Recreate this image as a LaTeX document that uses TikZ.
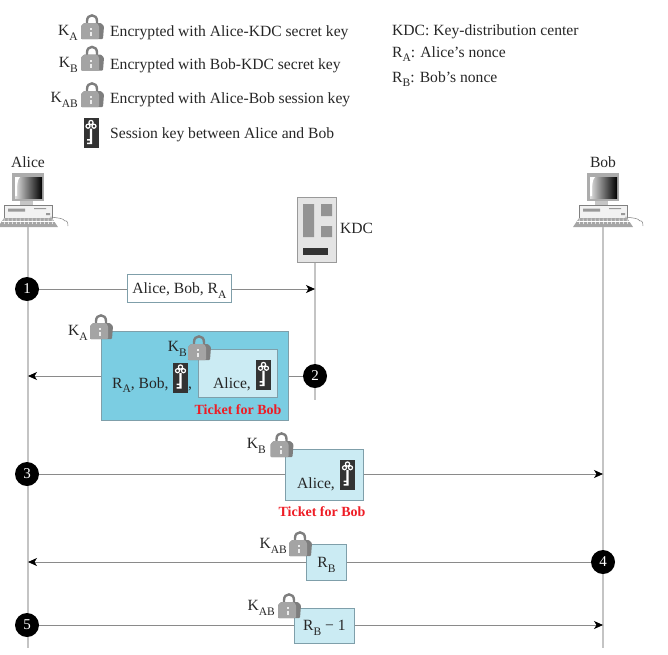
\documentclass[tikz,border=0pt]{standalone}
\usepackage{fontspec}
\setmainfont{Liberation Serif}
\usetikzlibrary{arrows.meta}
\definecolor{lockgray}{HTML}{A4A4A4}
\definecolor{lockdark}{HTML}{7E7E7E}
\definecolor{keydark}{HTML}{333333}
\definecolor{ticketblue}{HTML}{7BCDE2}
\definecolor{ticketpale}{HTML}{CBEBF3}
\definecolor{linegray}{HTML}{8A8A8A}
\definecolor{lifegray}{HTML}{C4C4C4}
\definecolor{boxedge}{HTML}{7F9FAA}
\definecolor{ticketred}{HTML}{EE1C25}
\definecolor{kdcfill}{HTML}{E4E4E4}
\newcommand{\lowidx}[1]{\raisebox{-0.3em}{\fontsize{11.5}{11.5}\selectfont #1}}
\tikzset{
  lockicon/.pic={
    \draw[lockdark,line width=2.4pt] (-5,-3) -- (-5,-6) .. controls (-5,-13.5) and (5,-13.5) .. (5,-6) -- (5,-3);
    \fill[lockdark,rounded corners=1pt] (-11,-1) -- (-8,-4) -- (9,-4) -- (12,-1) -- (11,12) -- (-11,12) -- cycle;
    \fill[lockgray,rounded corners=1pt] (-11,-1) -- (-8,-4) -- (5,-4) -- (7,-1) -- (7,12) -- (-11,12) -- cycle;
    \fill[white!85!gray] (-2,1) rectangle (0,3);
    \fill[white!85!gray] (-2,5) rectangle (0,9);
  },
  keyicon/.pic={
    \fill[keydark] (-7.5,-15) rectangle (7.5,15);
    \draw[white,line width=1.2pt] (0,-10.5) circle (2.1) (-3,-6.8) circle (2) (3,-6.8) circle (2);
    \fill[white] (-1.2,-4.5) rectangle (1.2,11) (-4,6) rectangle (-1,7.5) (-4,9.5) rectangle (-1,11);
  },
  pcicon/.pic={
    \fill[gray!65] (-16.5,-27) rectangle (16,1);
    \shade[left color=gray!25,right color=black] (-13,-23) rectangle (14,-2);
    \fill[white] (-13,-23) -- (-8,-23) .. controls (-11,-20) and (-11,-14) .. (-11,-4) -- (-13,-4) -- cycle;
    \fill[gray!45] (-8,1) rectangle (5,5);
    \draw[gray,fill=gray!10] (-24,5) rectangle (24,18);
    \fill[gray!80] (-20,8.5) rectangle (-3,11.5) (6,8) rectangle (18,9) (18,13) rectangle (22,15);
    \fill[gray!70] (-24,18) -- (24,18) -- (30,27) -- (-30,27) -- cycle;
    \foreach \kx in {-24,-20,...,24} \draw[white,line width=0.5pt] (\kx,18.5) -- (\kx+0.6,24);
    \draw[white,line width=0.5pt] (-26,21) -- (27,21);
    \draw[gray,line width=0.5pt] (22,17) .. controls (30,18) and (35,18) .. (37,21) .. controls (39,20) and (40,23) .. (40,26);
  },
  stepdot/.style={circle,fill=black,text=white,minimum size=24pt,inner sep=0pt,font=\fontsize{15}{15}\selectfont},
  msgbox/.style={draw=boxedge,line width=0.8pt,inner sep=0pt,anchor=north west,text height=12pt,text depth=2pt},
  plaintext/.style={anchor=west,inner sep=0pt},
  ticketlabel/.style={text=ticketred,font=\fontsize{14}{14}\selectfont\bfseries},
  keylabel/.style={anchor=east,inner sep=0pt},
  lifeline/.style={draw=lifegray,line width=1.1pt},
  plainline/.style={draw=linegray,line width=0.8pt},
  msgline/.style={draw=linegray,line width=0.8pt,-{Stealth[length=9pt,width=8pt,inset=2.5pt,black]}}
}
\begin{document}
\begin{tikzpicture}[x=1pt,y=-1pt,font=\fontsize{15.6}{18}\selectfont,text=black!85]
\useasboundingbox (0,0) rectangle (668,654);

% Legend
\node[keylabel] (legA) at (78,33) {K\lowidx{A}};
\pic at (92,27) {lockicon};
\node[plaintext] (legAtxt) at (110,33) {Encrypted with Alice-KDC secret key};
\node[keylabel] (legB) at (78,65) {K\lowidx{B}};
\pic at (92,58.5) {lockicon};
\node[plaintext] (legBtxt) at (110,66) {Encrypted with Bob-KDC secret key};
\node[keylabel] (legAB) at (78,100) {K\lowidx{AB}};
\pic at (92,95) {lockicon};
\node[plaintext] (legABtxt) at (110,100) {Encrypted with Alice-Bob session key};
\pic at (91,133) {keyicon};
\node[plaintext] (legKtxt) at (110,135) {Session key between Alice and Bob};
\node[plaintext] (defKDC) at (392,32) {KDC: Key-distribution center};
\node[plaintext] (defRA) at (392,54) {R\lowidx{A}: Alice’s nonce};
\node[plaintext] (defRB) at (392,79) {R\lowidx{B}: Bob’s nonce};

% Parties
\node[inner sep=0pt] (alice) at (28,162) {Alice};
\node[inner sep=0pt] (bob) at (603,162) {Bob};
\pic at (28,200) {pcicon};
\pic at (603,200) {pcicon};
\coordinate (alicetop) at (28,227);
\coordinate (alicebot) at (28,648);
\coordinate (bobtop) at (603,227);
\coordinate (bobbot) at (603,648);
\draw[lifeline] (alicetop) -- (alicebot);
\draw[lifeline] (bobtop) -- (bobbot);

% KDC
\node[draw=gray!80,fill=kdcfill,line width=0.8pt,minimum width=39pt,minimum height=65pt,inner sep=0pt,anchor=north west] (kdc) at (297,197) {};
\fill[gray!85] (303,204) rectangle (314,237) (321,204) rectangle (332,216) (321,226) rectangle (332,237);
\fill[keydark] (303,248) rectangle (328,255);
\node[plaintext] (kdclabel) at (340,228) {KDC};
\coordinate (kdcbot) at (315,400);
\draw[lifeline] (kdc.south -| kdcbot) -- (kdcbot);

% Step 1
\node[stepdot] (one) at (27,289) {1};
\node[msgbox,fill=white,minimum width=104pt,minimum height=28pt] (msgone) at (127,274) {Alice, Bob, R\lowidx{A}};
\coordinate (kdcone) at (315,289);
\draw[plainline] (one) -- (one -| msgone.west);
\draw[msgline] (msgone.east |- one) -- (kdcone);

% Step 2
\node[stepdot] (two) at (315,376) {2};
\node[msgbox,fill=ticketblue,minimum width=187pt,minimum height=89pt] (msgtwo) at (101,331) {};
\node[msgbox,fill=ticketpale,minimum width=79pt,minimum height=48pt] (tkttwo) at (198,349) {};
\coordinate (alicetwo) at (28,376);
\draw[plainline] (two) -- (msgtwo.east |- two);
\draw[msgline] (msgtwo.west |- two) -- (alicetwo);
\node[keylabel] (ka) at (88,333) {K\lowidx{A}};
\pic at (101,327) {lockicon};
\node[keylabel] (kb) at (187,349) {K\lowidx{B}};
\pic at (199,348) {lockicon};
\node[plaintext] (ratxt) at (112,385) {R\lowidx{A}, Bob,};
\pic at (180.5,377.5) {keyicon};
\node[inner sep=0pt] (comma) at (190,389) {,};
\node[plaintext] (alicetxt) at (213,384) {Alice,};
\pic at (263.5,375) {keyicon};
\node[ticketlabel] (tktlabel) at (238,410) {Ticket for Bob};

% Step 3
\node[stepdot] (three) at (27,474) {3};
\node[msgbox,fill=ticketpale,minimum width=78pt,minimum height=51pt] (msgthree) at (285,449) {};
\coordinate (bobthree) at (603,474);
\draw[plainline] (three) -- (three -| msgthree.west);
\draw[msgline] (msgthree.east |- three) -- (bobthree);
\node[keylabel] (kbthree) at (266,446) {K\lowidx{B}};
\pic at (281.5,445) {lockicon};
\node[plaintext] (alicethree) at (297,484) {Alice,};
\pic at (347.5,474.5) {keyicon};
\node[ticketlabel] (tktthree) at (322,512) {Ticket for Bob};

% Step 4
\node[stepdot] (four) at (603,562) {4};
\node[msgbox,fill=ticketpale,minimum width=40pt,minimum height=36pt] (msgfour) at (306,544) {R\lowidx{B}};
\coordinate (alicefour) at (28,562);
\draw[plainline] (four) -- (four -| msgfour.east);
\draw[msgline] (msgfour.west |- four) -- (alicefour);
\node[keylabel] (kabfour) at (287,546) {K\lowidx{AB}};
\pic at (300,544) {lockicon};

% Step 5
\node[stepdot] (five) at (27,625) {5};
\node[msgbox,fill=ticketpale,minimum width=60pt,minimum height=35pt] (msgfive) at (294,608) {R\lowidx{B} − 1};
\coordinate (bobfive) at (603,625);
\draw[plainline] (five) -- (five -| msgfive.west);
\draw[msgline] (msgfive.east |- five) -- (bobfive);
\node[keylabel] (kabfive) at (275,608) {K\lowidx{AB}};
\pic at (289,606) {lockicon};
\end{tikzpicture}
\end{document}
